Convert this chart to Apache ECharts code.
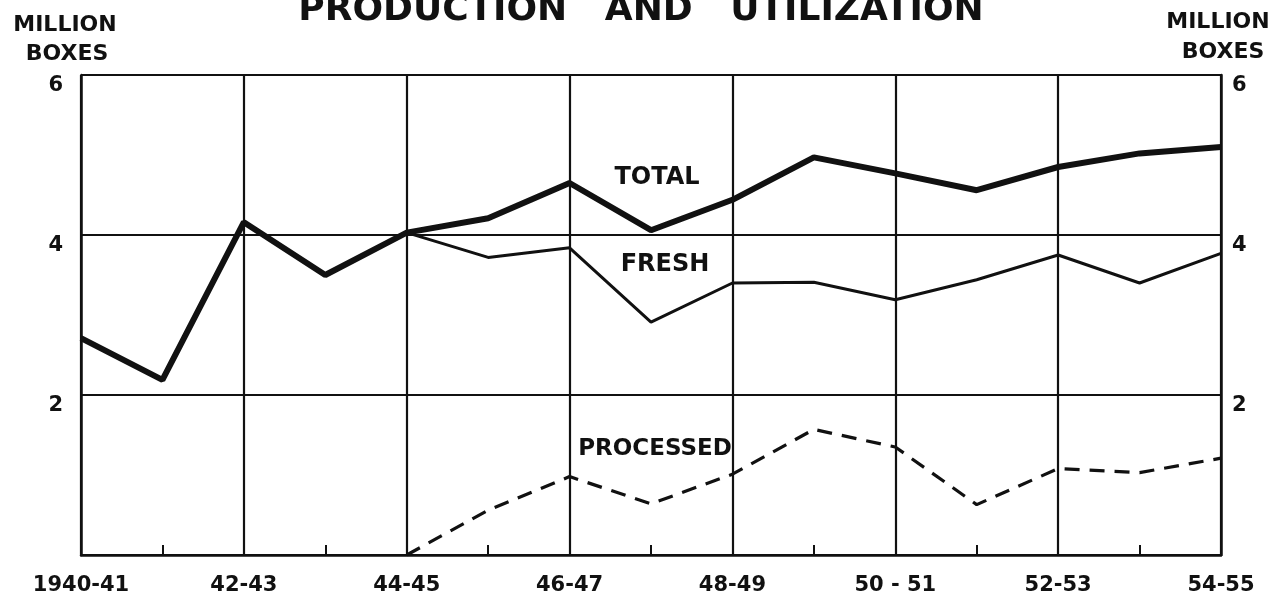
<!DOCTYPE html>
<html>
<head>
<meta charset="utf-8">
<script src="https://cdn.jsdelivr.net/npm/echarts@6/dist/echarts.min.js"></script>
<style>
  html, body { margin: 0; padding: 0; background: #fff; }
  #chart { width: 1282px; height: 597px; }
</style>
</head>
<body>
<div id="chart"></div>
<script>
// seasons, 1940-41 .. 54-55
var seasons = ['1940-41', '41-42', '42-43', '43-44', '44-45', '45-46', '46-47', '47-48',
               '48-49', '49-50', '50 - 51', '51-52', '52-53', '53-54', '54-55'];
// million boxes
var total     = [2.71, 2.19, 4.16, 3.50, 4.03, 4.21, 4.65, 4.06, 4.44, 4.97, 4.77, 4.56, 4.85, 5.02, 5.10];
var fresh     = [null, null, null, null, 4.03, 3.72, 3.84, 2.91, 3.40, 3.41, 3.19, 3.44, 3.75, 3.40, 3.77];
var processed = [null, null, null, null, 0.00, 0.56, 0.98, 0.64, 1.01, 1.57, 1.35, 0.63, 1.08, 1.03, 1.21];
var yTicks = [0, 2, 4, 6];

var FONT = 'DejaVu Sans';
var ink = '#111';

var chart = echarts.init(document.getElementById('chart'));

function yAxisSet(pos, margin) {
    return {
        type: 'value',
        position: pos,
        min: yTicks[0],
        max: yTicks[yTicks.length - 1],
        interval: 2,
        axisLine: { show: true, lineStyle: { color: ink, width: 2.5 } },
        axisTick: { show: false },
        splitLine: { show: pos === 'left', lineStyle: { color: ink, width: 2.2 } },
        axisLabel: {
            margin: margin,
            color: ink,
            fontFamily: FONT,
            fontWeight: 'bold',
            fontSize: 21,
            verticalAlign: 'top',
            formatter: function (v) { return v === 0 ? '' : String(v); }
        }
    };
}

function txt(x, y, s, size) {
    return {
        type: 'text', x: x, y: y,
        style: { text: s, font: 'bold ' + size + 'px "DejaVu Sans"', fill: ink, align: 'center', verticalAlign: 'middle' }
    };
}

var option = {
    backgroundColor: '#fff',
    animation: false,
    title: {
        text: 'PRODUCTION   AND   UTILIZATION',
        left: 'center',
        top: -12,
        textStyle: { fontFamily: FONT, fontWeight: 'bold', fontSize: 36, color: ink }
    },
    grid: { left: 81, right: 61, top: 75, bottom: 42 },
    xAxis: {
        type: 'category',
        data: seasons,
        boundaryGap: false,
        axisLine: { lineStyle: { color: ink, width: 2.5 } },
        axisTick: { show: true, inside: true, length: 10, interval: 0, lineStyle: { color: ink, width: 2 } },
        splitLine: { show: true, interval: 1, lineStyle: { color: ink, width: 2.2 } },
        axisLabel: {
            interval: 1,
            margin: 20,
            color: ink,
            fontFamily: FONT,
            fontWeight: 'bold',
            fontSize: 21
        }
    },
    yAxis: [yAxisSet('left', 18), yAxisSet('right', 11)],
    graphic: [
        txt(65, 25, 'MILLION', 22),
        txt(67, 54, 'BOXES', 22),
        txt(1218, 22, 'MILLION', 22),
        txt(1223, 52, 'BOXES', 22),
        txt(657, 178, 'TOTAL', 24),
        txt(665, 265, 'FRESH', 24),
        txt(655, 449, 'PROCESSED', 23)
    ],
    series: [
        {
            name: 'Total', type: 'line', data: total, symbol: 'none',
            lineStyle: { color: ink, width: 6 }, z: 5
        },
        {
            name: 'Fresh', type: 'line', data: fresh, symbol: 'none',
            lineStyle: { color: ink, width: 3 }, z: 4
        },
        {
            name: 'Processed', type: 'line', data: processed, symbol: 'none',
            lineStyle: { color: ink, width: 3.2, type: [15, 10] }, z: 4
        }
    ]
};

chart.setOption(option);
</script>
</body>
</html>
